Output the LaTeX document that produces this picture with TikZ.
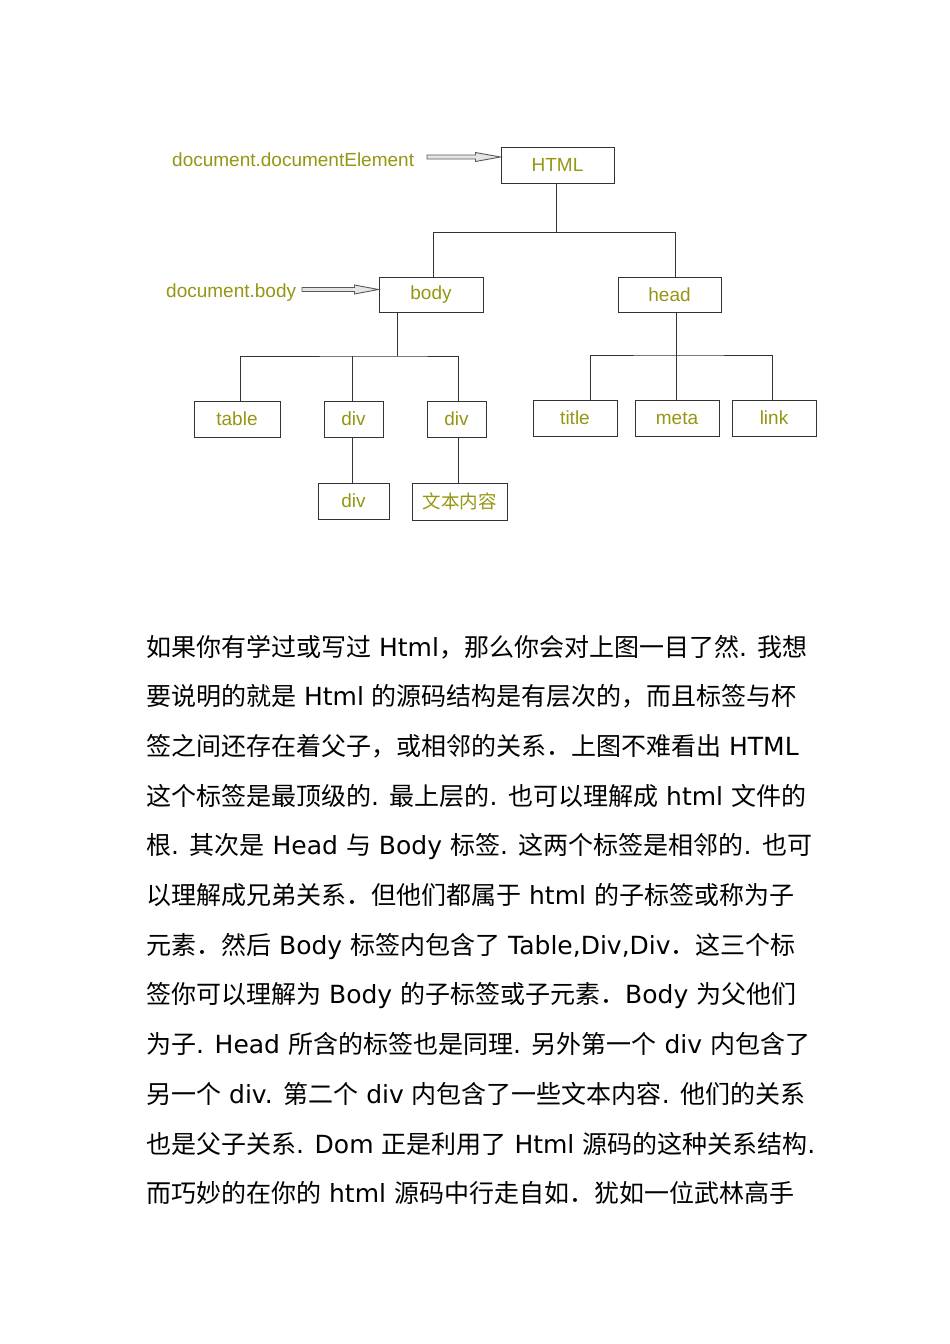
\documentclass[tikz,border=0pt]{standalone}
\usepackage{fontspec}
\setmainfont{DejaVu Sans}
\newfontfamily\zh{Noto Sans CJK SC}
\newfontfamily\arialf{Liberation Sans}
\usetikzlibrary{calc}
\definecolor{olivetxt}{RGB}{150,150,20}
\newcommand\zw[1]{{\zh #1}}
\tikzset{
  tbox/.style={draw=black!80, line width=1pt, fill=white, inner sep=0pt,
    text=olivetxt, font=\arialf\fontsize{19}{20}\selectfont},
  lbl/.style={inner sep=0pt, anchor=base west, text=olivetxt,
    font=\arialf\fontsize{19}{20}\selectfont},
  edge/.style={draw=black!80, line width=1pt},
  harrow/.style={draw=black!65, fill=black!10, line width=0.9pt, line join=miter},
  para/.style={inner sep=0pt, anchor=base west,
    font=\fontsize{25}{30}\selectfont}
}
\begin{document}
\begin{tikzpicture}[x=1pt,y=-1pt]
\path[use as bounding box, fill=white] (0,0) rectangle (950,1344);

% boxes
\node[tbox, minimum width=113pt, minimum height=36pt] (html) at (557.5,165) {HTML};
\node[tbox, minimum width=104pt, minimum height=35pt] (body) at (431,294.5) {body};
\node[tbox, minimum width=103pt, minimum height=35pt] (head) at (669.5,294.5) {head};
\node[tbox, minimum width=86pt, minimum height=36pt] (table) at (237,419) {table};
\node[tbox, minimum width=59pt, minimum height=36pt] (div1) at (353.5,419) {div};
\node[tbox, minimum width=59pt, minimum height=36pt] (div2) at (456.5,419) {div};
\node[tbox, minimum width=71pt, minimum height=36pt] (div3) at (353.5,501) {div};
\node[tbox, minimum width=95pt, minimum height=37pt, font=\zh\fontsize{18.5}{20}\selectfont] (txt) at (459.5,501.5) {文本内容};
\node[tbox, minimum width=84pt, minimum height=36pt] (title) at (575,418) {title};
\node[tbox, minimum width=84pt, minimum height=36pt] (meta) at (677,418) {meta};
\node[tbox, minimum width=84pt, minimum height=36pt] (link) at (774,418) {link};

% connectors
\coordinate (j1) at (556,232);
\draw[edge] (html.south -| j1) -- (j1);
\draw[edge] (j1) -| (body.north -| 433,0);
\draw[edge] (j1) -| (head.north -| 675,0);

\coordinate (j2) at (397,356);
\draw[edge] (body.south -| j2) -- (j2);
\draw[edge] (table.north -| 240,0) |- (j2) -| (div2.north -| 458,0);
\draw[edge] (div1.north -| 352,0) -- (j2 -| 352,0);

\coordinate (j3) at (676,355);
\draw[edge] (head.south -| j3) -- (j3);
\draw[edge] (title.north -| 590,0) |- (j3) -| (link.north -| 772,0);
\draw[edge] (meta.north -| j3) -- (j3);

\draw[edge] (div1.south -| 352,0) -- (div3.north -| 352,0);
\draw[edge] (div2.south -| 458,0) -- (txt.north -| 458,0);

% labels and hollow arrows
\node[lbl] (l1) at (172,166) {document.documentElement};
\node[lbl] (l2) at (166,297) {document.body};
\coordinate (a1) at (427,157);
\coordinate (a2) at (302,289.5);
\path[harrow] let \p1=(a1), \p2=(a1 -| html.west) in
  (\x1,\y1+2pt) -- (\x2-25pt,\y1+2pt) -- (\x2-25pt,\y1+4.5pt) -- (\x2,\y1)
  -- (\x2-25pt,\y1-4.5pt) -- (\x2-25pt,\y1-2pt) -- (\x1,\y1-2pt) -- cycle;
\path[harrow] let \p1=(a2), \p2=(a2 -| body.west) in
  (\x1,\y1+2pt) -- (\x2-24pt,\y1+2pt) -- (\x2-24pt,\y1+4.5pt) -- (\x2,\y1)
  -- (\x2-24pt,\y1-4.5pt) -- (\x2-24pt,\y1-2pt) -- (\x1,\y1-2pt) -- cycle;

% paragraph
\node[para] (p1) at (146,656) {\zw{如果你有学过或写过} Html\zw{，那么你会对上图一目了然}. \zw{我想}};
\node[para] (p2) at (146,705.7) {\zw{要说明的就是} Html \zw{的源码结构是有层次的，而且标签与杯}};
\node[para] (p3) at (146,755.4) {\zw{签之间还存在着父子，或相邻的关系．上图不难看出} HTML};
\node[para] (p4) at (146,805.1) {\zw{这个标签是最顶级的}. \zw{最上层的}. \zw{也可以理解成} html \zw{文件的}};
\node[para] (p5) at (146,854.8) {\zw{根}. \zw{其次是} Head \zw{与} Body \zw{标签}. \zw{这两个标签是相邻的}. \zw{也可}};
\node[para] (p6) at (146,904.5) {\zw{以理解成兄弟关系．但他们都属于} html \zw{的子标签或称为子}};
\node[para] (p7) at (146,954.2) {\zw{元素．然后} Body \zw{标签内包含了} Table,Div,Div\zw{．这三个标}};
\node[para] (p8) at (146,1003.9) {\zw{签你可以理解为} Body \zw{的子标签或子元素．}Body \zw{为父他们}};
\node[para] (p9) at (146,1053.6) {\zw{为子}. Head \zw{所含的标签也是同理}. \zw{另外第一个} div \zw{内包含了}};
\node[para] (p10) at (146,1103.3) {\zw{另一个} div. \zw{第二个} div \zw{内包含了一些文本内容}. \zw{他们的关系}};
\node[para] (p11) at (146,1153) {\zw{也是父子关系}. Dom \zw{正是利用了} Html \zw{源码的这种关系结构}.};
\node[para] (p12) at (146,1202.7) {\zw{而巧妙的在你的} html \zw{源码中行走自如．犹如一位武林高手}};
\end{tikzpicture}
\end{document}
